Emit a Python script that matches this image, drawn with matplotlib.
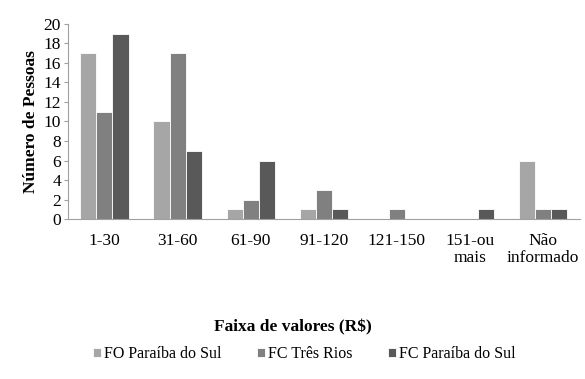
import numpy as np
import matplotlib
matplotlib.use("Agg")
import matplotlib.pyplot as plt

plt.rcParams['font.family'] = ['Liberation Serif', 'DejaVu Serif']

categories = ['1-30', '31-60', '61-90', '91-120', '121-150', '151-ou\nmais', 'Não\ninformado']
fo_paraiba = [17, 10, 1, 1, 0, 0, 6]
fc_tres_rios = [11, 17, 2, 3, 1, 0, 1]
fc_paraiba = [19, 7, 6, 1, 0, 1, 1]
series_names = ['FO Paraíba do Sul', 'FC Três Rios', 'FC Paraíba do Sul']
colors = ['#a6a6a6', '#808080', '#595959']

fig = plt.figure(figsize=(5.85, 3.79), dpi=100)
ax = fig.add_axes([0.116, 0.422, 0.875, 0.515])

x = np.arange(len(categories))
w = 0.22
for i, (vals, name, c) in enumerate(zip([fo_paraiba, fc_tres_rios, fc_paraiba], series_names, colors)):
    ax.bar(x + (i - 1) * w, vals, width=w, color=c, edgecolor='white', linewidth=0.6, label=name)

ax.set_xlim(-0.5, len(categories) - 0.5)
ax.set_ylim(0, 20)
ax.set_yticks(range(0, 21, 2))
ax.set_xticks(x)
ax.set_xticklabels(categories, fontsize=12.5, linespacing=1.1)
ax.tick_params(axis='y', labelsize=12.5, length=3, color='#a0a0a0', pad=2)
ax.tick_params(axis='x', length=0, pad=10)
for s in ['top', 'right']:
    ax.spines[s].set_visible(False)
for s in ['left', 'bottom']:
    ax.spines[s].set_color('#a0a0a0')
ax.set_ylabel('Número de Pessoas', fontsize=12.5, fontweight='bold', labelpad=3)

fig.text(0.5, 0.135, 'Faixa de valores (R$)', ha='center', va='center', fontsize=12.5, fontweight='bold')
fig.legend(loc='center', bbox_to_anchor=(0.52, 0.065), ncol=3, frameon=False, fontsize=11.5,
           handlelength=0.5, handleheight=0.5, handletextpad=0.2, columnspacing=2.2)

fig.savefig('out.png', dpi=100)
